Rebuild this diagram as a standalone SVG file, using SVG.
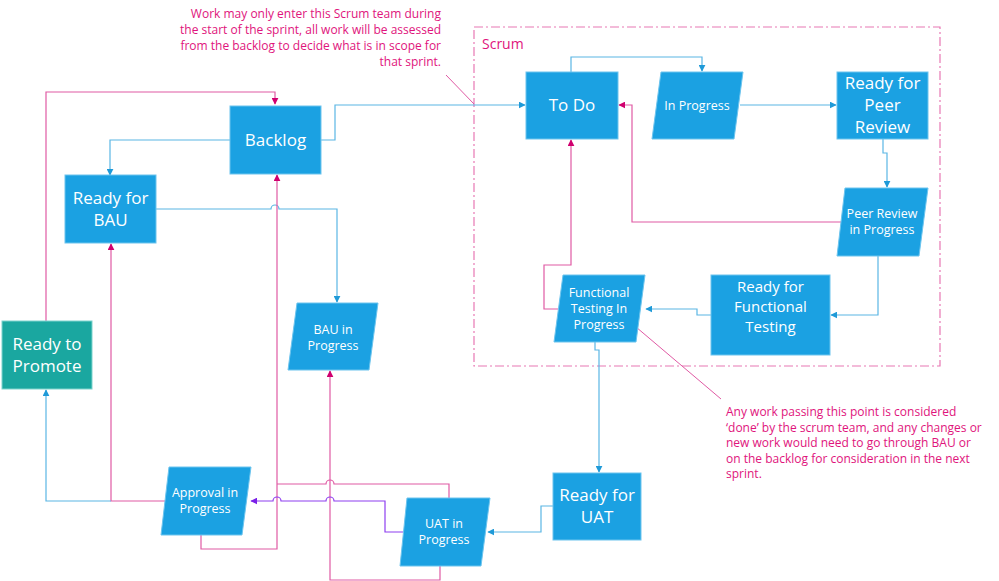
<svg xmlns="http://www.w3.org/2000/svg" width="999" height="581" viewBox="0 0 999 581">
<style>
.n{fill:#1ba1e2;stroke:#6cc4ee;stroke-width:1}
.t{fill:#1aa7a0;stroke:#7dd3cd}
.lb{font-family:"Open Sans","Noto Sans",sans-serif;fill:#fff;text-anchor:middle}
.big{font-size:17px}
.mid{font-size:15px}
.sm{font-size:12.5px}
.c{fill:none;stroke-width:1.2}
.b{stroke:#5ab6e4}
.p{stroke:#e05aa4}
.v{stroke:#8e3ff0}
.note{font-family:"Open Sans","Noto Sans",sans-serif;font-size:12px;fill:#e0147c}
</style>
<defs>
<marker id="ab" viewBox="0 0 10 10" refX="9" refY="5" markerWidth="7" markerHeight="7" orient="auto-start-reverse" markerUnits="userSpaceOnUse"><path d="M0,0L10,5L0,10z" fill="#1f9ad8"/></marker>
<marker id="ap" viewBox="0 0 10 10" refX="9" refY="5" markerWidth="7" markerHeight="7" orient="auto-start-reverse" markerUnits="userSpaceOnUse"><path d="M0,0L10,5L0,10z" fill="#d0006f"/></marker>
<marker id="av" viewBox="0 0 10 10" refX="9" refY="5" markerWidth="7" markerHeight="7" orient="auto-start-reverse" markerUnits="userSpaceOnUse"><path d="M0,0L10,5L0,10z" fill="#7a1fe8"/></marker>
</defs>
<rect x="0" y="0" width="999" height="581" fill="#fff"/>
<g id="scrum">
<rect x="474" y="27" width="466" height="339" fill="none" stroke="#e878b4" stroke-width="1.2" stroke-dasharray="9,3,2,3"/>
<text x="482" y="49" font-family="Open Sans,sans-serif" font-size="14" fill="#e0147c">Scrum</text>
</g>
<g id="connectors">
<path class="c p" d="M46,321V92H275V104" marker-end="url(#ap)"/>
<path class="c b" d="M230,140H110V175" marker-end="url(#ab)"/>
<path class="c b" d="M321,140H335V105H525" marker-end="url(#ab)"/>
<path class="c b" d="M156,209H271a4,4 0 0 1 8,0H337V302" marker-end="url(#ab)"/>
<path class="c p" d="M201,535V549H277V175" marker-end="url(#ap)"/>
<path class="c p" d="M449,498V484H334a4,4 0 0 0 -8,0H277"/>
<path class="c p" d="M165,501H111V244" marker-end="url(#ap)"/>
<path class="c b" d="M111,501H46V390" marker-end="url(#ab)"/>
<path class="c p" d="M440,566V580H330V371" marker-end="url(#ap)"/>
<path class="c v" d="M405,532H385V501H334a4,4 0 0 0 -8,0H281a4,4 0 0 0 -8,0H251" marker-end="url(#av)"/>
<path class="c b" d="M553,506H541V532H488" marker-end="url(#ab)"/>
<path class="c b" d="M595,342V350H599V472" marker-end="url(#ab)"/>
<path class="c b" d="M571,72V57H702V71" marker-end="url(#ab)"/>
<path class="c b" d="M740,105H836" marker-end="url(#ab)"/>
<path class="c b" d="M883,139V153H887V187" marker-end="url(#ab)"/>
<path class="c b" d="M878,256V315H831" marker-end="url(#ab)"/>
<path class="c b" d="M711,315H697V309H646" marker-end="url(#ab)"/>
<path class="c p" d="M558,309H544V265H571V140" marker-end="url(#ap)"/>
<path class="c p" d="M841,222H632V105H619" marker-end="url(#ap)"/>
<path d="M446,75L474,104" stroke="#e05aa4" stroke-width="1"/>
<path d="M636,327L721,399" stroke="#e05aa4" stroke-width="1"/>
</g>
<g id="backlog"><rect class="n" x="230" y="106" width="91" height="68"/><text class="lb big" x="275.5" y="146">Backlog</text></g>
<g id="readyBAU"><rect class="n" x="65" y="175" width="91" height="68"/><text class="lb big" x="110.5" y="204">Ready for</text><text class="lb big" x="110.5" y="226">BAU</text></g>
<g id="readyPromote"><rect class="n t" x="2" y="321" width="90" height="68"/><text class="lb big" x="47" y="350">Ready to</text><text class="lb big" x="47" y="372">Promote</text></g>
<g id="bauProgress"><polygon class="n" points="297,303 378,303 369,370 288,370"/><text class="lb sm" x="333" y="334">BAU in</text><text class="lb sm" x="333" y="350">Progress</text></g>
<g id="approval"><polygon class="n" points="169,467 251,467 242,535 161,535"/><text class="lb sm" x="205" y="497">Approval in</text><text class="lb sm" x="205" y="513">Progress</text></g>
<g id="uatProgress"><polygon class="n" points="407,498 490,498 481,566 400,566"/><text class="lb sm" x="444" y="528">UAT in</text><text class="lb sm" x="444" y="544">Progress</text></g>
<g id="readyUAT"><rect class="n" x="553" y="473" width="88" height="67"/><text class="lb big" x="597" y="501">Ready for</text><text class="lb big" x="597" y="523">UAT</text></g>
<g id="todo"><rect class="n" x="526" y="72" width="92" height="67"/><text class="lb big" x="572" y="111">To Do</text></g>
<g id="inProgress"><polygon class="n" points="661,72 743,72 734,139 652,139"/><text class="lb sm" x="697" y="110">In Progress</text></g>
<g id="readyPeer"><rect class="n" x="837" y="72" width="91" height="67"/><text class="lb big" x="882.5" y="89">Ready for</text><text class="lb big" x="882.5" y="111">Peer</text><text class="lb big" x="882.5" y="133">Review</text></g>
<g id="peerProgress"><polygon class="n" points="845,188 928,188 919,256 837,256"/><text class="lb sm" x="882" y="218">Peer Review</text><text class="lb sm" x="882" y="234">in Progress</text></g>
<g id="readyFT"><rect class="n" x="711" y="275" width="119" height="80"/><text class="lb mid" x="770.5" y="292">Ready for</text><text class="lb mid" x="770.5" y="312">Functional</text><text class="lb mid" x="770.5" y="332">Testing</text></g>
<g id="ftProgress"><polygon class="n" points="563,275 645,275 636,342 554,342"/><text class="lb sm" x="599" y="297">Functional</text><text class="lb sm" x="599" y="313">Testing In</text><text class="lb sm" x="599" y="329">Progress</text></g>
<g id="notes">
<text class="note" text-anchor="end"><tspan x="441" y="18">Work may only enter this Scrum team during</tspan><tspan x="441" y="34">the start of the sprint, all work will be assessed</tspan><tspan x="441" y="50">from the backlog to decide what is in scope for</tspan><tspan x="441" y="66">that sprint.</tspan></text>
<text class="note"><tspan x="726" y="416">Any work passing this point is considered</tspan><tspan x="726" y="431.5">‘done’ by the scrum team, and any changes or</tspan><tspan x="726" y="447">new work would need to go through BAU or</tspan><tspan x="726" y="462.5">on the backlog for consideration in the next</tspan><tspan x="726" y="478">sprint.</tspan></text>
</g>
</svg>
